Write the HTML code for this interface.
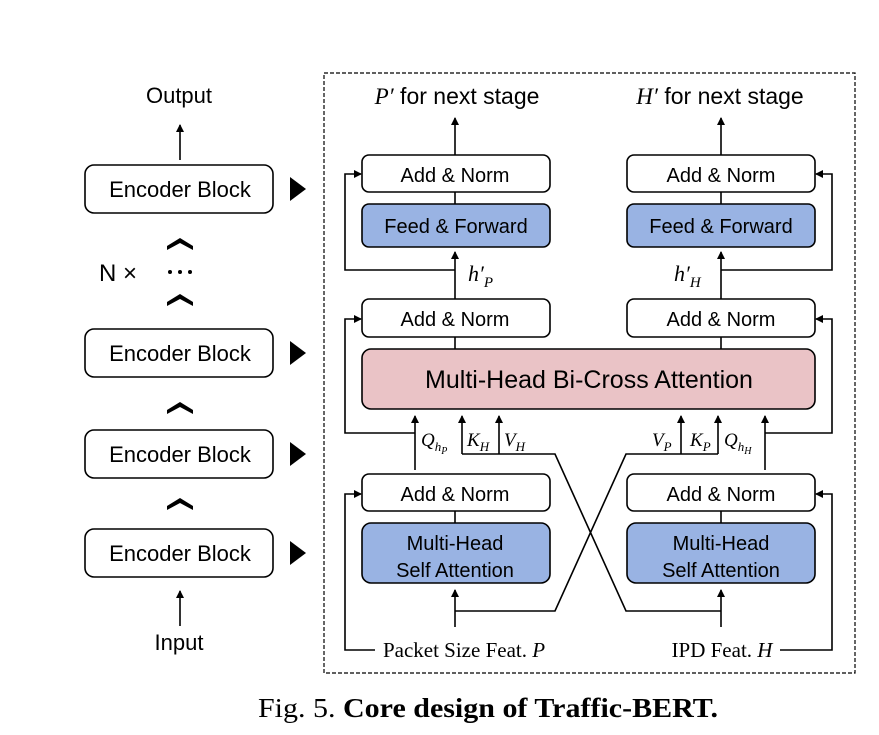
<!DOCTYPE html>
<html><head><style>body{margin:0;background:#fff}svg{display:block}</style></head><body>
<svg width="879" height="735" viewBox="0 0 879 735" xmlns="http://www.w3.org/2000/svg" font-family="Liberation Sans, sans-serif">
<defs><marker id="a" markerWidth="8" markerHeight="8" refX="7" refY="4" orient="auto" markerUnits="userSpaceOnUse"><path d="M0,0 L8,4 L0,8 Z" fill="#000"/></marker></defs>
<rect x="324" y="73" width="531" height="600" fill="none" stroke="#000" stroke-width="1.2" stroke-dasharray="4,2"/>
<g stroke="#000" stroke-width="1.6" fill="none">
<rect x="85" y="165" width="188" height="48" rx="9" fill="#fff"/>
<rect x="85" y="329" width="188" height="48" rx="9" fill="#fff"/>
<rect x="85" y="430" width="188" height="48" rx="9" fill="#fff"/>
<rect x="85" y="529" width="188" height="48" rx="9" fill="#fff"/>
<line x1="180" y1="160" x2="180" y2="125" marker-end="url(#a)"/>
<line x1="180" y1="626" x2="180" y2="591" marker-end="url(#a)"/>
<rect x="362" y="155" width="188" height="37" rx="7" fill="#fff"/>
<rect x="362" y="204" width="188" height="43" rx="7" fill="#99b3e3"/>
<rect x="627" y="155" width="188" height="37" rx="7" fill="#fff"/>
<rect x="627" y="204" width="188" height="43" rx="7" fill="#99b3e3"/>
<rect x="362" y="299" width="188" height="38" rx="7" fill="#fff"/>
<rect x="627" y="299" width="188" height="38" rx="7" fill="#fff"/>
<rect x="362" y="349" width="453" height="60" rx="9" fill="#eac3c6"/>
<rect x="362" y="474" width="188" height="37" rx="7" fill="#fff"/>
<rect x="362" y="523" width="188" height="60" rx="9" fill="#99b3e3"/>
<rect x="627" y="474" width="188" height="37" rx="7" fill="#fff"/>
<rect x="627" y="523" width="188" height="60" rx="9" fill="#99b3e3"/>
<line x1="455" y1="192" x2="455" y2="204"/><line x1="721" y1="192" x2="721" y2="204"/>
<line x1="455" y1="337" x2="455" y2="349"/><line x1="721" y1="337" x2="721" y2="349"/>
<line x1="455" y1="511" x2="455" y2="523"/><line x1="721" y1="511" x2="721" y2="523"/>
<line x1="455" y1="155" x2="455" y2="118" marker-end="url(#a)"/>
<line x1="721" y1="155" x2="721" y2="118" marker-end="url(#a)"/>
<line x1="455" y1="299" x2="455" y2="252" marker-end="url(#a)"/>
<line x1="721" y1="299" x2="721" y2="252" marker-end="url(#a)"/>
<polyline points="455,270 345,270 345,174 361,174" marker-end="url(#a)"/>
<polyline points="721,270 832,270 832,174 816,174" marker-end="url(#a)"/>
<polyline points="415,433 345,433 345,319 361,319" marker-end="url(#a)"/>
<polyline points="765,433 832,433 832,319 816,319" marker-end="url(#a)"/>
<line x1="415" y1="470" x2="415" y2="416" marker-end="url(#a)"/>
<line x1="765" y1="470" x2="765" y2="416" marker-end="url(#a)"/>
<line x1="462" y1="454" x2="462" y2="416" marker-end="url(#a)"/>
<line x1="499" y1="454" x2="499" y2="416" marker-end="url(#a)"/>
<line x1="681" y1="454" x2="681" y2="416" marker-end="url(#a)"/>
<line x1="718" y1="454" x2="718" y2="416" marker-end="url(#a)"/>
<polyline points="462,454 555,454 626,611 721,611"/>
<polyline points="718,454 626,454 555,611 455,611"/>
<line x1="455" y1="627" x2="455" y2="590" marker-end="url(#a)"/>
<line x1="721" y1="627" x2="721" y2="590" marker-end="url(#a)"/>
<polyline points="375,650 345,650 345,494 361,494" marker-end="url(#a)"/>
<polyline points="780,650 832,650 832,494 816,494" marker-end="url(#a)"/>
</g>
<g fill="#000">
<path d="M290,177 L306,189 L290,201Z"/><path d="M290,341 L306,353 L290,365Z"/>
<path d="M290,442 L306,454 L290,466Z"/><path d="M290,541 L306,553 L290,565Z"/>
<path d="M167,246 L180,238 L193,246 L193,250 L180,243 L167,250Z"/>
<path d="M167,302 L180,294 L193,302 L193,306 L180,299 L167,306Z"/>
<path d="M167,410 L180,402 L193,410 L193,414 L180,407 L167,414Z"/>
<path d="M167,506 L180,498 L193,506 L193,510 L180,503 L167,510Z"/>
<circle cx="170" cy="272" r="2"/><circle cx="180" cy="272" r="2"/><circle cx="190" cy="272" r="2"/>
</g>
<g font-size="22" text-anchor="middle">
<text x="179" y="103">Output</text>
<text x="179" y="650">Input</text>
<text x="180" y="197">Encoder Block</text>
<text x="180" y="361">Encoder Block</text>
<text x="180" y="462">Encoder Block</text>
<text x="180" y="561">Encoder Block</text>
<text x="118" y="281" font-size="24">N ×</text>
</g>
<g font-size="20" text-anchor="middle">
<text x="455" y="182">Add &amp; Norm</text><text x="721" y="182">Add &amp; Norm</text>
<text x="456" y="233">Feed &amp; Forward</text><text x="721" y="233">Feed &amp; Forward</text>
<text x="455" y="326">Add &amp; Norm</text><text x="721" y="326">Add &amp; Norm</text>
<text x="455" y="501">Add &amp; Norm</text><text x="721" y="501">Add &amp; Norm</text>
<text x="455" y="550">Multi-Head</text><text x="455" y="577">Self Attention</text>
<text x="721" y="550">Multi-Head</text><text x="721" y="577">Self Attention</text>
<text x="589" y="388" font-size="25">Multi-Head Bi-Cross Attention</text>
<text x="457" y="104" font-size="23"><tspan font-family="Liberation Serif" font-style="italic">P′</tspan> for next stage</text>
<text x="720" y="104" font-size="23"><tspan font-family="Liberation Serif" font-style="italic">H′</tspan> for next stage</text>
<text x="464" y="657" font-size="21"><tspan font-family="Liberation Serif">Packet Size Feat. </tspan><tspan font-family="Liberation Serif" font-style="italic">P</tspan></text>
<text x="722" y="657" font-size="21" font-family="Liberation Serif">IPD Feat. <tspan font-style="italic">H</tspan></text>
</g>
<g font-family="Liberation Serif, serif" font-style="italic" font-size="22">
<text x="468" y="281">h′<tspan font-size="15" dy="6">P</tspan></text>
<text x="674" y="281">h′<tspan font-size="15" dy="6">H</tspan></text>
<text x="421" y="446" font-size="19">Q<tspan font-size="13" dy="5">h</tspan><tspan font-size="10" dy="3">P</tspan></text>
<text x="467" y="446" font-size="19">K<tspan font-size="13" dy="5">H</tspan></text>
<text x="504" y="446" font-size="19">V<tspan font-size="13" dy="5">H</tspan></text>
<text x="652" y="446" font-size="19">V<tspan font-size="13" dy="5">P</tspan></text>
<text x="690" y="446" font-size="19">K<tspan font-size="13" dy="5">P</tspan></text>
<text x="724" y="446" font-size="19">Q<tspan font-size="13" dy="5">h</tspan><tspan font-size="10" dy="3">H</tspan></text>
</g>
<text x="258" y="717" font-family="Liberation Serif, serif" font-size="27" textLength="460" lengthAdjust="spacingAndGlyphs">Fig. 5.  <tspan font-weight="bold">Core design of Traffic-BERT.</tspan></text>
</svg>
</body></html>
